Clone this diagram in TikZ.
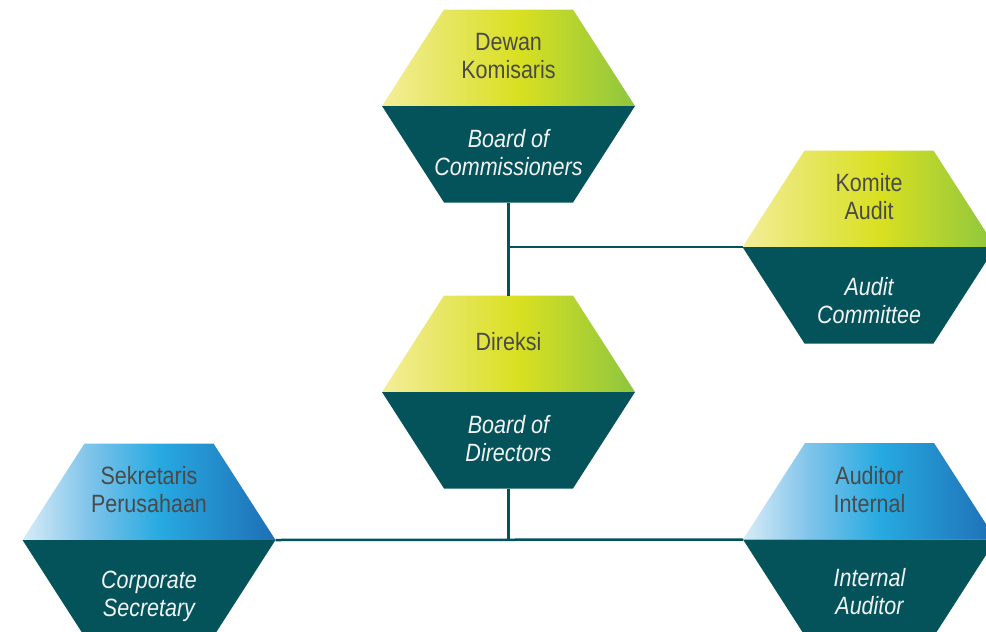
\documentclass[tikz,border=0pt]{standalone}
\usepackage{fontspec}
\setmainfont{Liberation Sans}[FakeStretch=0.86]
\definecolor{gl}{HTML}{F4EE9A}
\definecolor{gq}{HTML}{E6E660}
\definecolor{gm}{HTML}{D9E021}
\definecolor{gr}{HTML}{8DC63F}
\definecolor{bl}{HTML}{D8ECF8}
\definecolor{bq}{HTML}{80C4EA}
\definecolor{bm}{HTML}{27AAE1}
\definecolor{br}{HTML}{1F6FB5}
\definecolor{tealdark}{HTML}{04535B}
\definecolor{txtdark}{HTML}{4A4A4A}
\definecolor{txtlight}{HTML}{F2F2F2}
\pgfdeclarehorizontalshading{greenshade}{100bp}{color(0bp)=(gl); color(25bp)=(gl); color(38bp)=(gq); color(52bp)=(gm); color(75bp)=(gr); color(100bp)=(gr)}
\pgfdeclarehorizontalshading{blueshade}{100bp}{color(0bp)=(bl); color(25bp)=(bl); color(38bp)=(bq); color(52bp)=(bm); color(75bp)=(br); color(100bp)=(br)}
\tikzset{
  uppertext/.style={text=txtdark, align=center, inner sep=0pt, font=\fontsize{25}{28}\selectfont},
  lowertext/.style={text=txtlight, align=center, inner sep=0pt, font=\fontsize{25}{28}\selectfont\itshape},
  link/.style={draw=tealdark, line width=2.5pt},
}
% name, cx, cy, shading, lower-text offset, upper, lower
\newcommand\orgunit[7]{%
  \shade[shading=#4]
    ({#2-126.5},{#3}) -- ({#2-64.5},{#3-96.5}) -- ({#2+64.5},{#3-96.5}) -- ({#2+126.5},{#3}) -- cycle;
  \fill[tealdark]
    ({#2-126.5},{#3}) -- ({#2+126.5},{#3}) -- ({#2+64.5},{#3+96.5}) -- ({#2-64.5},{#3+96.5}) -- cycle;
  \node[uppertext] (#1-up) at ({#2},{#3-50}) {#6};
  \node[lowertext] (#1-low) at ({#2},{#3+#5}) {#7};
  \coordinate (#1-t) at ({#2},{#3-96.5});
  \coordinate (#1-b) at ({#2},{#3+96.5});
  \coordinate (#1-l) at ({#2-126.5},{#3});
  \coordinate (#1-r) at ({#2+126.5},{#3});
}
\begin{document}
\begin{tikzpicture}[x=1pt,y=-1pt]
  \useasboundingbox (0,0) rectangle (986,632);
  \orgunit{dk}{508.5}{106}{greenshade}{47}{Dewan\\Komisaris}{Board of\\Commissioners}
  \orgunit{ka}{869}{247}{greenshade}{54}{Komite\\Audit}{Audit\\Committee}
  \orgunit{dir}{508.5}{392}{greenshade}{47}{Direksi}{Board of\\Directors}
  \orgunit{sp}{149}{540}{blueshade}{56}{Sekretaris\\Perusahaan}{Corporate\\Secretary}
  \orgunit{ai}{869.5}{539.5}{blueshade}{52}{Auditor\\Internal}{Internal\\Auditor}
  \draw[link] (dk-b) -- (dir-t);
  \draw[link] (ka-l) -- (ka-l -| dk-b);
  \draw[link] (dir-b) -- (dir-b |- sp-r);
  \draw[link] (sp-r) -- (ai-l);
\end{tikzpicture}
\end{document}
